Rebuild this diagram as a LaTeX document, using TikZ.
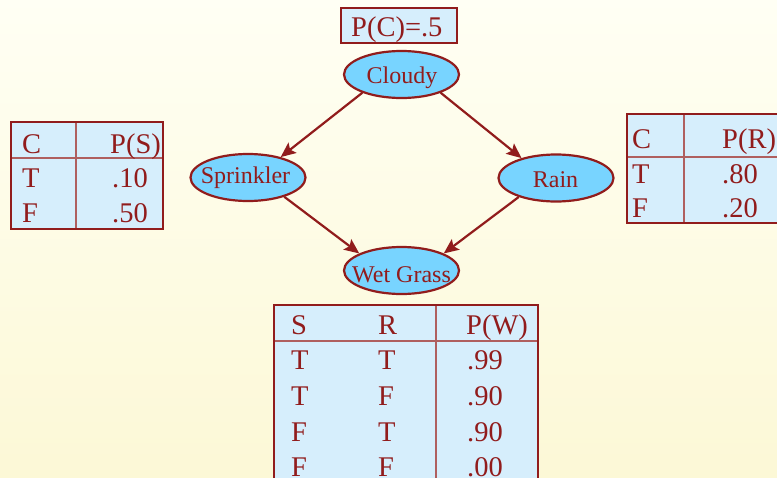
\documentclass[tikz,border=0pt]{standalone}
\usepackage{fontspec}
\setmainfont{Liberation Serif}
\usetikzlibrary{shapes.geometric,arrows.meta}
\definecolor{dred}{RGB}{145,28,28}
\definecolor{nodeblue}{RGB}{120,212,255}
\definecolor{tabblue}{RGB}{214,238,252}
\definecolor{gridred}{RGB}{175,95,95}
\definecolor{bgtop}{RGB}{255,255,244}
\definecolor{bgbot}{RGB}{252,248,214}
\begin{document}
\begin{tikzpicture}[x=1pt,y=-1pt,
 var/.style={ellipse, draw=dred, line width=2.2pt, fill=nodeblue, inner sep=0pt, minimum width=115pt, minimum height=47pt},
 vlabel/.style={anchor=base, inner sep=0pt, text=dred, font=\fontsize{24}{26}\selectfont},
 cell/.style={anchor=base west, inner sep=0pt, text=dred, font=\fontsize{28.5}{30}\selectfont},
 tabfill/.style={fill=tabblue},
 tabborder/.style={draw=dred, line width=2.8pt},
 gridline/.style={draw=gridred, line width=1.5pt},
 edge/.style={draw=dred, line width=2.2pt, -{Stealth[length=15pt,width=13pt,inset=3pt]}}
]
\useasboundingbox (0,0) rectangle (777,477);
\shade[top color=bgtop, bottom color=bgbot] (0,0) rectangle (777,477);
\clip (0,0) rectangle (777,477);

% P(C) box
\fill[tabfill] (341,8) rectangle (457,43);
\draw[tabborder] (341,8) rectangle (457,43);
\node[cell] (pc) at (351,36) {P(C)=.5};

% variable nodes
\node[var] (c) at (401.5,74.5) {};
\node[var] (s) at (248,177.5) {};
\node[var] (r) at (556,178) {};
\node[var] (w) at (401.5,270.5) {};
\node[vlabel] (ct) at (402,83) {Cloudy};
\node[vlabel] (st) at (245.5,183) {Sprinkler};
\node[vlabel] (rt) at (555.5,187) {Rain};
\node[vlabel] (wt) at (401.5,282) {Wet Grass};

% edges
\draw[edge] (c.205) -- (s.32);
\draw[edge] (c.-25) -- (r.150);
\draw[edge] (s.-28) -- (w.158);
\draw[edge] (r.207) -- (w.22);

% left table
\fill[tabfill] (11,122) rectangle (163,229);
\draw[gridline] (76,122) -- (76,229);
\draw[gridline] (11,158) -- (163,158);
\draw[tabborder] (11,122) rectangle (163,229);
\node[cell] (l11) at (22,153) {C};
\node[cell] (l12) at (110,153) {P(S)};
\node[cell] (l21) at (22,187) {T};
\node[cell] (l22) at (112,187) {.10};
\node[cell] (l31) at (22,222) {F};
\node[cell] (l32) at (112,222) {.50};

% right table
\fill[tabfill] (627,114) rectangle (792,223);
\draw[gridline] (684,114) -- (684,223);
\draw[gridline] (627,157) -- (792,157);
\draw[tabborder] (627,114) rectangle (792,223);
\node[cell] (r11) at (632,148) {C};
\node[cell] (r12) at (722,148) {P(R)};
\node[cell] (r21) at (632,183) {T};
\node[cell] (r22) at (722,183) {.80};
\node[cell] (r31) at (632,217) {F};
\node[cell] (r32) at (722,217) {.20};

% bottom table
\fill[tabfill] (274,305) rectangle (538,495);
\draw[gridline] (436,305) -- (436,495);
\draw[gridline] (274,341) -- (538,341);
\draw[tabborder] (274,305) rectangle (538,495);
\node[cell] (b11) at (291,334) {S};
\node[cell] (b12) at (378,334) {R};
\node[cell] (b13) at (466,334) {P(W)};
\node[cell] (b21) at (291,369) {T};
\node[cell] (b22) at (378,369) {T};
\node[cell] (b23) at (467,369) {.99};
\node[cell] (b31) at (291,405) {T};
\node[cell] (b32) at (378,405) {F};
\node[cell] (b33) at (467,405) {.90};
\node[cell] (b41) at (291,441) {F};
\node[cell] (b42) at (378,441) {T};
\node[cell] (b43) at (467,441) {.90};
\node[cell] (b51) at (291,476) {F};
\node[cell] (b52) at (378,476) {F};
\node[cell] (b53) at (467,476) {.00};
\end{tikzpicture}
\end{document}
